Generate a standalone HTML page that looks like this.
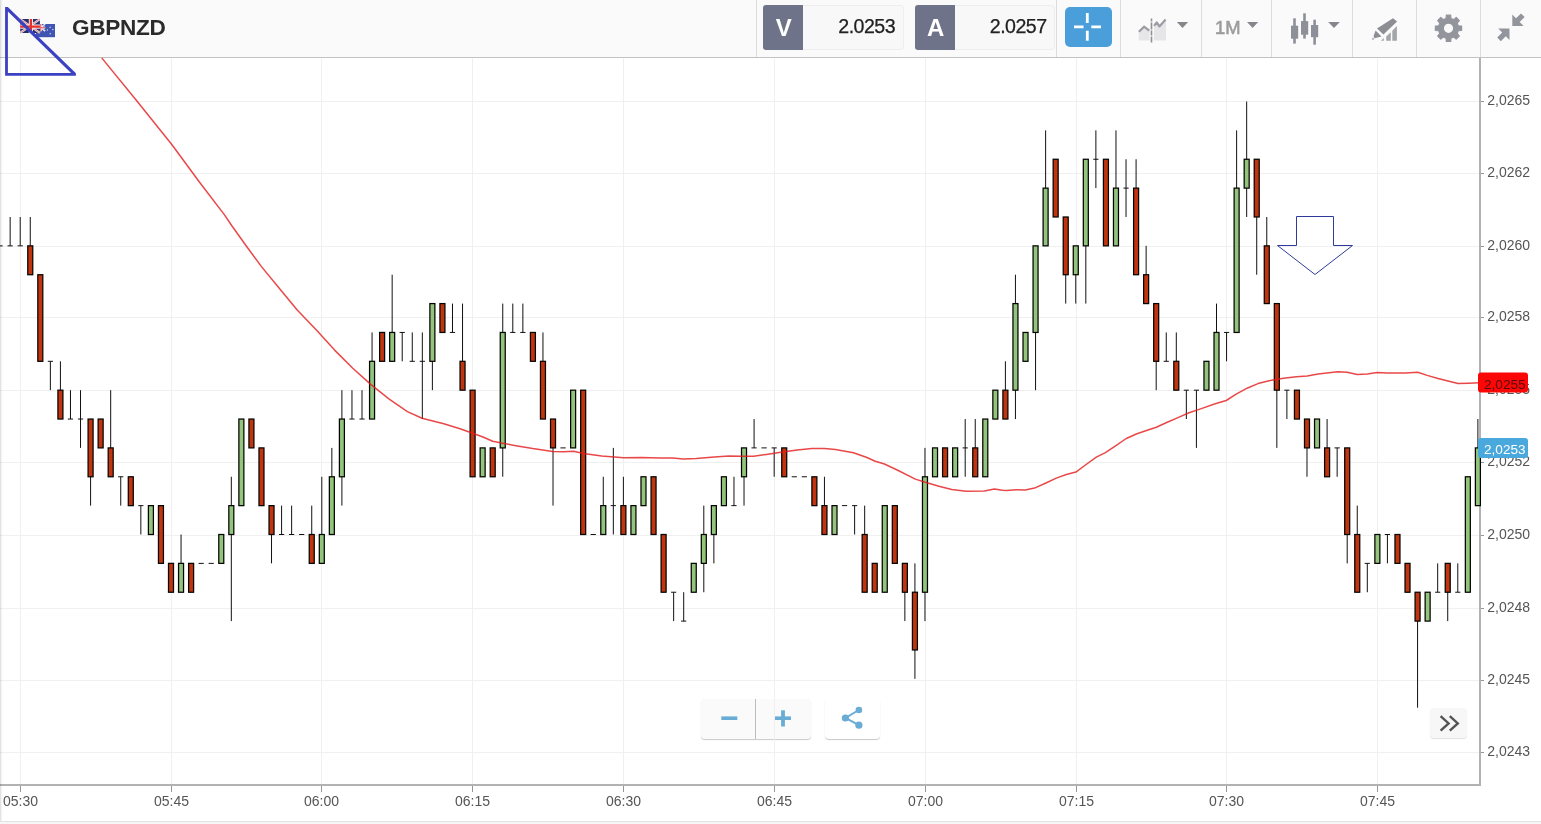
<!DOCTYPE html>
<html lang="en">
<head>
<meta charset="utf-8">
<title>GBPNZD</title>
<style>
html,body{margin:0;padding:0;}
body{width:1541px;height:824px;overflow:hidden;background:#fff;position:relative;font-family:"Liberation Sans",sans-serif;}
#hdr{position:absolute;left:0;top:0;width:1541px;height:57px;background:#fafafa;border-bottom:1px solid #c2c2c2;box-sizing:content-box;}
#foot{position:absolute;left:0;top:821px;width:1541px;height:3px;background:#f6f6f6;border-top:1px solid #e2e2e2;box-sizing:border-box;}
#edge{position:absolute;left:0;top:0;width:3px;height:821px;background:linear-gradient(90deg,rgba(0,0,0,.15),rgba(0,0,0,.04) 50%,rgba(0,0,0,0));}
.sep{position:absolute;top:0;width:1px;height:57px;background:#dcdcdc;}
.sym{position:absolute;left:72px;top:14.5px;font-size:22.6px;line-height:26px;font-weight:bold;color:#2b2b2b;letter-spacing:-0.3px;}
.pbox{position:absolute;top:5px;height:45px;}
.pbox .k{position:absolute;left:0;top:0;width:40px;height:45px;background:#6f7389;border-radius:3px 0 0 3px;color:#fff;font-weight:bold;font-size:24px;line-height:45px;text-align:center;text-indent:1.5px;}
.pbox .v{position:absolute;left:40px;top:0;width:100px;height:43px;border:1px solid #eeeeee;border-left:none;border-radius:0 4px 4px 0;background:#f8f8f8;color:#222;font-size:19.6px;line-height:41px;text-align:right;padding-right:8.5px;box-sizing:content-box;letter-spacing:-0.55px;-webkit-text-stroke:0.25px #222;}
.pbox .v span{display:inline-block;}
#cross{position:absolute;left:1065px;top:7px;width:47px;height:40px;border-radius:5px;background:#4a9fdb;}
.tf{position:absolute;left:1215px;top:16px;font-size:18.4px;line-height:24px;color:#9c9c9c;-webkit-text-stroke:0.55px #9c9c9c;}
svg.chart{position:absolute;left:0;top:0;}
svg.chart rect.r{fill:#c13410;}
svg.chart rect.g{fill:#93c47e;}
svg.chart .ax text{font-family:"Liberation Sans",sans-serif;font-size:14px;fill:#555;}
svg.chart text.tag{font-family:"Liberation Sans",sans-serif;font-size:13.6px;}
svg.ico{position:absolute;left:0;top:0;}
.btn{position:absolute;background:#fafafa;box-shadow:0 1px 1px rgba(0,0,0,.22);}
</style>
</head>
<body>
<div id="hdr">
  <svg class="ico" width="60" height="57" viewBox="0 0 60 57">
  <!-- flags -->
  <g>
    <rect x="36" y="24" width="19" height="13.2" fill="#3f55b1"/>
    <path d="M36 24L45.2 31.2M45.2 24L36 31.2" stroke="#e8e8f4" stroke-width="1.5"/>
    <path d="M40.6 24V31.2M36 27.6H45.2" stroke="#f4f0f4" stroke-width="2.4"/>
    <path d="M40.6 24V31.2M36 27.6H45.2" stroke="#ee7070" stroke-width="1.1"/>
    <circle cx="50.1" cy="27.2" r=".8" fill="#c9cff0"/><circle cx="52.9" cy="29.5" r=".8" fill="#c9cff0"/><circle cx="47.4" cy="30" r=".7" fill="#c9cff0"/><circle cx="50.3" cy="33.8" r=".8" fill="#c9cff0"/>
    <rect x="20.2" y="19.1" width="19.7" height="13.8" rx="1.2" fill="#25316f"/>
    <path d="M20.2 19.1L39.9 32.9M39.9 19.1L20.2 32.9" stroke="#ecdfe8" stroke-width="2.2"/>
    <path d="M20.2 19.1L39.9 32.9M39.9 19.1L20.2 32.9" stroke="#e87878" stroke-width="0.8"/>
    <path d="M30.9 19.1V32.9M20.2 26.6H39.9" stroke="#f6e4e6" stroke-width="4.2"/>
    <path d="M30.9 19.1V32.9M20.2 26.6H39.9" stroke="#e6322a" stroke-width="2.2"/>
  </g>
  </svg>
  <div class="sym">GBPNZD</div>
  <div class="sep" style="left:756px"></div>
  <div class="pbox" style="left:763px"><div class="k">V</div><div class="v" style="width:92px;padding-right:7.5px"><span>2.0253</span></div></div>
  <div class="pbox" style="left:915px"><div class="k">A</div><div class="v" style="width:91.5px;padding-right:7px"><span>2.0257</span></div></div>
  <div class="sep" style="left:1056px"></div>
  <div id="cross"></div>
  <div class="sep" style="left:1120px"></div>
  <div class="sep" style="left:1201px"></div>
  <div class="tf">1M</div>
  <div class="sep" style="left:1271px"></div>
  <div class="sep" style="left:1352px"></div>
  <div class="sep" style="left:1416px"></div>
  <div class="sep" style="left:1480px"></div>
</div>

<!-- zoom / share / scroll buttons -->
<div class="btn" style="left:701px;top:699px;width:110px;height:40px;border-radius:4px;"></div>
<div class="btn" style="left:825px;top:699px;width:55px;height:40px;border-radius:4px;background:#fff;"></div>
<div class="btn" style="left:1430px;top:708px;width:37px;height:30px;border-radius:4px;background:#f7f7f7;box-shadow:0 1px 1px rgba(0,0,0,.12);"></div>

<svg class="chart" width="1541" height="824" viewBox="0 0 1541 824">
<g stroke="#f0f0f0" stroke-width="1" shape-rendering="crispEdges">
<line x1="0" x2="1479" y1="101.5" y2="101.5"/>
<line x1="0" x2="1479" y1="173.5" y2="173.5"/>
<line x1="0" x2="1479" y1="246.5" y2="246.5"/>
<line x1="0" x2="1479" y1="317.5" y2="317.5"/>
<line x1="0" x2="1479" y1="390.5" y2="390.5"/>
<line x1="0" x2="1479" y1="462.5" y2="462.5"/>
<line x1="0" x2="1479" y1="535.5" y2="535.5"/>
<line x1="0" x2="1479" y1="608.5" y2="608.5"/>
<line x1="0" x2="1479" y1="680.5" y2="680.5"/>
<line x1="0" x2="1479" y1="752.5" y2="752.5"/>
<line x1="20.5" x2="20.5" y1="58" y2="784"/>
<line x1="171.5" x2="171.5" y1="58" y2="784"/>
<line x1="321.5" x2="321.5" y1="58" y2="784"/>
<line x1="472.5" x2="472.5" y1="58" y2="784"/>
<line x1="623.5" x2="623.5" y1="58" y2="784"/>
<line x1="774.5" x2="774.5" y1="58" y2="784"/>
<line x1="925.5" x2="925.5" y1="58" y2="784"/>
<line x1="1076.5" x2="1076.5" y1="58" y2="784"/>
<line x1="1226.5" x2="1226.5" y1="58" y2="784"/>
<line x1="1377.5" x2="1377.5" y1="58" y2="784"/>
</g>
<g shape-rendering="crispEdges" fill="#b2b2b2">
<rect x="1479" y="58" width="2" height="728"/>
<rect x="0" y="784" width="1481" height="2"/>
</g>
<g stroke="#969696" stroke-width="1" shape-rendering="crispEdges">
<line x1="1481" x2="1484" y1="101.5" y2="101.5"/>
<line x1="1481" x2="1484" y1="173.5" y2="173.5"/>
<line x1="1481" x2="1484" y1="246.5" y2="246.5"/>
<line x1="1481" x2="1484" y1="317.5" y2="317.5"/>
<line x1="1481" x2="1484" y1="390.5" y2="390.5"/>
<line x1="1481" x2="1484" y1="462.5" y2="462.5"/>
<line x1="1481" x2="1484" y1="535.5" y2="535.5"/>
<line x1="1481" x2="1484" y1="608.5" y2="608.5"/>
<line x1="1481" x2="1484" y1="680.5" y2="680.5"/>
<line x1="1481" x2="1484" y1="752.5" y2="752.5"/>
<line x1="20.5" x2="20.5" y1="786" y2="792"/>
<line x1="171.5" x2="171.5" y1="786" y2="792"/>
<line x1="321.5" x2="321.5" y1="786" y2="792"/>
<line x1="472.5" x2="472.5" y1="786" y2="792"/>
<line x1="623.5" x2="623.5" y1="786" y2="792"/>
<line x1="774.5" x2="774.5" y1="786" y2="792"/>
<line x1="925.5" x2="925.5" y1="786" y2="792"/>
<line x1="1076.5" x2="1076.5" y1="786" y2="792"/>
<line x1="1226.5" x2="1226.5" y1="786" y2="792"/>
<line x1="1377.5" x2="1377.5" y1="786" y2="792"/>
</g>
<path d="M-2.5 245.85H2.7M10.15 216.99V245.85M7.55 245.85H12.75M20.21 216.99V245.85M17.61 245.85H22.81M30.26 216.99V274.72M40.31 274.72V361.31M50.37 361.31V390.18M47.77 361.31H52.97M60.42 361.31V419.04M70.47 390.18V419.04M67.87 419.04H73.07M80.52 390.18V447.9M77.92 419.04H83.12M90.58 419.04V505.63M100.63 419.04V447.9M110.68 390.18V476.77M120.74 476.77V505.63M118.14 476.77H123.34M130.79 476.77V505.63M140.84 505.63V534.5M138.24 505.63H143.44M150.9 505.63V534.5M160.95 505.63V563.37M171 563.37V592.23M181.05 534.5V592.23M191.11 563.37V592.23M198.56 563.37H203.76M208.61 563.37H213.81M221.27 534.5V563.37M231.32 476.77V621.1M241.37 419.04V505.63M251.43 419.04V447.9M261.48 447.9V505.63M271.53 505.63V563.37M281.58 505.63V534.5M278.98 534.5H284.18M291.64 505.63V534.5M289.04 534.5H294.24M299.09 534.5H304.29M311.74 505.63V563.37M321.8 476.77V563.37M331.85 447.9V534.5M341.9 390.18V505.63M351.96 390.18V419.04M349.36 419.04H354.56M362.01 390.18V419.04M359.41 419.04H364.61M372.06 332.45V419.04M382.11 332.45V361.31M392.17 274.72V361.31M402.22 332.45V361.31M399.62 332.45H404.82M412.27 332.45V361.31M409.67 361.31H414.87M422.33 332.45V419.04M419.73 361.31H424.93M432.38 303.58V390.18M442.43 303.58V332.45M452.49 303.58V332.45M449.89 332.45H455.09M462.54 303.58V390.18M472.59 390.18V476.77M482.64 447.9V476.77M492.7 447.9V476.77M502.75 303.58V476.77M512.8 303.58V332.45M510.2 332.45H515.4M522.86 303.58V332.45M520.26 332.45H525.46M532.91 332.45V361.31M542.96 332.45V419.04M553.02 419.04V505.63M560.47 447.9H565.67M573.12 390.18V447.9M583.17 390.18V534.5M590.63 534.5H595.83M603.28 476.77V534.5M613.33 447.9V534.5M610.73 505.63H615.93M623.39 476.77V534.5M633.44 505.63V534.5M643.49 476.77V505.63M653.55 476.77V534.5M663.6 534.5V592.23M673.65 592.23V621.1M671.05 592.23H676.25M683.7 592.23V621.1M681.1 621.1H686.3M693.76 563.37V592.23M703.81 505.63V592.23M713.86 505.63V563.37M723.92 476.77V505.63M733.97 476.77V505.63M731.37 505.63H736.57M744.02 447.9V505.63M754.08 419.04V447.9M751.48 447.9H756.68M761.53 447.9H766.73M774.18 447.9V476.77M771.58 447.9H776.78M784.23 447.9V476.77M791.69 476.77H796.89M801.74 476.77H806.94M814.39 476.77V505.63M824.45 476.77V534.5M834.5 505.63V534.5M841.95 505.63H847.15M854.61 505.63V534.5M852.01 505.63H857.21M864.66 505.63V592.23M874.71 563.37V592.23M884.76 505.63V592.23M894.82 505.63V563.37M904.87 563.37V621.1M914.92 563.37V678.83M924.98 447.9V621.1M935.03 447.9V476.77M945.08 447.9V476.77M955.14 447.9V476.77M965.19 419.04V476.77M962.59 447.9H967.79M975.24 419.04V476.77M985.29 419.04V476.77M995.35 390.18V419.04M1005.4 361.31V419.04M1015.45 274.72V419.04M1025.51 332.45V361.31M1035.56 245.85V390.18M1045.61 130.39V245.85M1055.66 159.25V216.99M1065.72 216.99V303.58M1075.77 245.85V303.58M1085.82 159.25V303.58M1095.88 130.39V188.12M1093.28 159.25H1098.48M1105.93 159.25V245.85M1115.98 130.39V245.85M1126.04 159.25V216.99M1123.44 188.12H1128.64M1136.09 159.25V274.72M1146.14 245.85V303.58M1156.19 303.58V390.18M1166.25 332.45V361.31M1163.65 361.31H1168.85M1176.3 332.45V390.18M1186.35 390.18V419.04M1183.75 390.18H1188.95M1196.41 390.18V447.9M1193.81 390.18H1199.01M1206.46 361.31V390.18M1216.51 303.58V390.18M1226.57 332.45V361.31M1223.97 332.45H1229.17M1236.62 130.39V332.45M1246.67 101.53V216.99M1256.72 159.25V274.72M1266.78 216.99V303.58M1276.83 303.58V447.9M1286.88 390.18V419.04M1284.28 390.18H1289.48M1296.94 390.18V419.04M1306.99 419.04V476.77M1317.04 419.04V447.9M1327.1 419.04V476.77M1337.15 447.9V476.77M1334.55 447.9H1339.75M1347.2 447.9V563.37M1357.26 505.63V592.23M1367.31 563.37V592.23M1364.71 563.37H1369.91M1377.36 534.5V563.37M1387.41 534.5V563.37M1384.81 534.5H1390.01M1397.47 534.5V563.37M1407.52 563.37V592.23M1417.57 592.23V707.69M1427.63 592.23V621.1M1437.68 563.37V592.23M1435.08 592.23H1440.28M1447.73 563.37V621.1M1457.79 563.37V592.23M1455.19 592.23H1460.38M1467.84 476.77V592.23M1477.89 419.04V505.63" stroke="#111" stroke-width="1" fill="none"/>
<g stroke="#050500" stroke-width="1.25">
<rect class="r" x="27.76" y="245.85" width="5" height="28.87"/><rect class="r" x="37.81" y="274.72" width="5" height="86.59"/><rect class="r" x="57.92" y="390.18" width="5" height="28.87"/><rect class="r" x="88.08" y="419.04" width="5" height="57.73"/><rect class="r" x="98.13" y="419.04" width="5" height="28.86"/><rect class="r" x="108.18" y="447.9" width="5" height="28.87"/><rect class="r" x="128.29" y="476.77" width="5" height="28.87"/><rect class="g" x="148.4" y="505.63" width="5" height="28.87"/><rect class="r" x="158.45" y="505.63" width="5" height="57.73"/><rect class="r" x="168.5" y="563.37" width="5" height="28.87"/><rect class="g" x="178.55" y="563.37" width="5" height="28.87"/><rect class="r" x="188.61" y="563.37" width="5" height="28.87"/><rect class="g" x="218.77" y="534.5" width="5" height="28.87"/><rect class="g" x="228.82" y="505.63" width="5" height="28.87"/><rect class="g" x="238.87" y="419.04" width="5" height="86.59"/><rect class="r" x="248.93" y="419.04" width="5" height="28.86"/><rect class="r" x="258.98" y="447.9" width="5" height="57.73"/><rect class="r" x="269.03" y="505.63" width="5" height="28.87"/><rect class="r" x="309.24" y="534.5" width="5" height="28.87"/><rect class="g" x="319.3" y="534.5" width="5" height="28.87"/><rect class="g" x="329.35" y="476.77" width="5" height="57.73"/><rect class="g" x="339.4" y="419.04" width="5" height="57.73"/><rect class="g" x="369.56" y="361.31" width="5" height="57.73"/><rect class="r" x="379.61" y="332.45" width="5" height="28.86"/><rect class="g" x="389.67" y="332.45" width="5" height="28.86"/><rect class="g" x="429.88" y="303.58" width="5" height="57.73"/><rect class="r" x="439.93" y="303.58" width="5" height="28.87"/><rect class="r" x="460.04" y="361.31" width="5" height="28.87"/><rect class="r" x="470.09" y="390.18" width="5" height="86.59"/><rect class="g" x="480.14" y="447.9" width="5" height="28.87"/><rect class="r" x="490.2" y="447.9" width="5" height="28.87"/><rect class="g" x="500.25" y="332.45" width="5" height="115.46"/><rect class="r" x="530.41" y="332.45" width="5" height="28.86"/><rect class="r" x="540.46" y="361.31" width="5" height="57.73"/><rect class="r" x="550.52" y="419.04" width="5" height="28.86"/><rect class="g" x="570.62" y="390.18" width="5" height="57.73"/><rect class="r" x="580.67" y="390.18" width="5" height="144.32"/><rect class="g" x="600.78" y="505.63" width="5" height="28.87"/><rect class="r" x="620.89" y="505.63" width="5" height="28.87"/><rect class="g" x="630.94" y="505.63" width="5" height="28.87"/><rect class="g" x="640.99" y="476.77" width="5" height="28.87"/><rect class="r" x="651.05" y="476.77" width="5" height="57.73"/><rect class="r" x="661.1" y="534.5" width="5" height="57.73"/><rect class="g" x="691.26" y="563.37" width="5" height="28.87"/><rect class="g" x="701.31" y="534.5" width="5" height="28.87"/><rect class="g" x="711.36" y="505.63" width="5" height="28.87"/><rect class="g" x="721.42" y="476.77" width="5" height="28.87"/><rect class="g" x="741.52" y="447.9" width="5" height="28.87"/><rect class="r" x="781.73" y="447.9" width="5" height="28.87"/><rect class="r" x="811.89" y="476.77" width="5" height="28.87"/><rect class="r" x="821.95" y="505.63" width="5" height="28.87"/><rect class="g" x="832" y="505.63" width="5" height="28.87"/><rect class="r" x="862.16" y="534.5" width="5" height="57.73"/><rect class="r" x="872.21" y="563.37" width="5" height="28.87"/><rect class="g" x="882.26" y="505.63" width="5" height="86.6"/><rect class="r" x="892.32" y="505.63" width="5" height="57.73"/><rect class="r" x="902.37" y="563.37" width="5" height="28.87"/><rect class="r" x="912.42" y="592.23" width="5" height="57.73"/><rect class="g" x="922.48" y="476.77" width="5" height="115.46"/><rect class="g" x="932.53" y="447.9" width="5" height="28.87"/><rect class="r" x="942.58" y="447.9" width="5" height="28.87"/><rect class="g" x="952.64" y="447.9" width="5" height="28.87"/><rect class="r" x="972.74" y="447.9" width="5" height="28.87"/><rect class="g" x="982.79" y="419.04" width="5" height="57.73"/><rect class="g" x="992.85" y="390.18" width="5" height="28.87"/><rect class="r" x="1002.9" y="390.18" width="5" height="28.87"/><rect class="g" x="1012.95" y="303.58" width="5" height="86.59"/><rect class="g" x="1023.01" y="332.45" width="5" height="28.86"/><rect class="g" x="1033.06" y="245.85" width="5" height="86.6"/><rect class="g" x="1043.11" y="188.12" width="5" height="57.73"/><rect class="r" x="1053.16" y="159.25" width="5" height="57.73"/><rect class="r" x="1063.22" y="216.99" width="5" height="57.73"/><rect class="g" x="1073.27" y="245.85" width="5" height="28.87"/><rect class="g" x="1083.32" y="159.25" width="5" height="86.6"/><rect class="r" x="1103.43" y="159.25" width="5" height="86.6"/><rect class="g" x="1113.48" y="188.12" width="5" height="57.73"/><rect class="r" x="1133.59" y="188.12" width="5" height="86.6"/><rect class="r" x="1143.64" y="274.72" width="5" height="28.87"/><rect class="r" x="1153.69" y="303.58" width="5" height="57.73"/><rect class="r" x="1173.8" y="361.31" width="5" height="28.87"/><rect class="g" x="1203.96" y="361.31" width="5" height="28.87"/><rect class="g" x="1214.01" y="332.45" width="5" height="57.73"/><rect class="g" x="1234.12" y="188.12" width="5" height="144.33"/><rect class="g" x="1244.17" y="159.25" width="5" height="28.87"/><rect class="r" x="1254.22" y="159.25" width="5" height="57.73"/><rect class="r" x="1264.28" y="245.85" width="5" height="57.73"/><rect class="r" x="1274.33" y="303.58" width="5" height="86.59"/><rect class="r" x="1294.44" y="390.18" width="5" height="28.87"/><rect class="r" x="1304.49" y="419.04" width="5" height="28.86"/><rect class="g" x="1314.54" y="419.04" width="5" height="28.86"/><rect class="r" x="1324.6" y="447.9" width="5" height="28.87"/><rect class="r" x="1344.7" y="447.9" width="5" height="86.6"/><rect class="r" x="1354.76" y="534.5" width="5" height="57.73"/><rect class="g" x="1374.86" y="534.5" width="5" height="28.87"/><rect class="r" x="1394.97" y="534.5" width="5" height="28.87"/><rect class="r" x="1405.02" y="563.37" width="5" height="28.87"/><rect class="r" x="1415.07" y="592.23" width="5" height="28.87"/><rect class="g" x="1425.13" y="592.23" width="5" height="28.87"/><rect class="r" x="1445.23" y="563.37" width="5" height="28.87"/><rect class="g" x="1465.34" y="476.77" width="5" height="115.46"/><rect class="g" x="1475.39" y="447.9" width="5" height="57.73"/>
</g>
<polyline fill="none" stroke="#e41a1a" stroke-opacity="0.8" stroke-width="1.5" stroke-linejoin="round" points="101.7,57.9 136.7,100.7 171.8,144.5 199,181.5 224.3,214.6 232,226 247,247 261.5,266.6 277.6,286.3 297.2,309.9 316.4,330 334.6,350.1 352.8,368.3 371,384.6 389.2,399.2 407.4,411.6 422,418.3 443.8,423.8 460,428.7 472.7,433.3 483.6,437.3 492.7,441.3 502.7,443.2 514.5,445.4 532.7,448.5 552.7,451.4 563.6,451.8 573.6,451.2 583.5,453.6 601.7,456 614.4,456.9 623.5,457.8 641.7,457.4 659.9,458 672.6,458 683.5,459.1 696.2,458.5 714.4,456.9 728.9,456 740.9,456.3 753.6,456.3 766.3,454.5 780.9,452.3 797.2,450 811.8,448.5 824.5,448.5 835.4,449.6 853.5,452.7 866.3,457.3 875.3,461.3 884.4,464 897.2,470 915.3,479.1 925.3,482.3 938.9,486.3 951.7,489.6 966.2,491.2 984.4,490.9 994.4,489 1002.5,490.3 1006.4,490.5 1016.4,489.7 1025.4,489.9 1034.5,488.1 1045.4,483.2 1056.3,478.1 1066.3,474.5 1075.9,472.1 1085.4,465 1096.3,457.2 1105.4,452.7 1116.3,445.4 1126.3,438.5 1136.3,434 1147.2,430.3 1156.3,427.2 1167.2,422.3 1178,417.6 1189,412.7 1199.9,409.1 1214.4,404 1226.2,400.5 1236.2,394.2 1247.1,388.2 1258,383.6 1269.1,380.7 1283.6,378.2 1296.3,376.7 1307.2,376 1318.1,374 1329,372.7 1338.1,371.8 1347.2,372.3 1357.2,374.5 1367.2,374 1377.2,372.5 1387.2,373.1 1405.3,373.1 1417.7,372.3 1427.2,375.4 1438,378.5 1449,381.3 1458,383.6 1468.9,383.2 1478.9,382.7"/>
<g class="ax">
<text x="1487.3" y="105">2,0265</text>
<text x="1487.3" y="177.2">2,0262</text>
<text x="1487.3" y="249.9">2,0260</text>
<text x="1487.3" y="321.3">2,0258</text>
<text x="1487.3" y="393.8">2,0255</text>
<text x="1487.3" y="466.4">2,0252</text>
<text x="1487.3" y="539.1">2,0250</text>
<text x="1487.3" y="611.9">2,0248</text>
<text x="1487.3" y="683.8">2,0245</text>
<text x="1487.3" y="755.8">2,0243</text>
<text x="20.5" y="806" text-anchor="middle">05:30</text>
<text x="171.5" y="806" text-anchor="middle">05:45</text>
<text x="321.5" y="806" text-anchor="middle">06:00</text>
<text x="472.5" y="806" text-anchor="middle">06:15</text>
<text x="623.5" y="806" text-anchor="middle">06:30</text>
<text x="774.5" y="806" text-anchor="middle">06:45</text>
<text x="925.5" y="806" text-anchor="middle">07:00</text>
<text x="1076.5" y="806" text-anchor="middle">07:15</text>
<text x="1226.5" y="806" text-anchor="middle">07:30</text>
<text x="1377.5" y="806" text-anchor="middle">07:45</text>
</g>
<rect x="1478" y="372.6" width="50" height="20" rx="3" fill="#fb0707"/>
<text class="tag" x="1484" y="388.5" fill="#5a0a0a">2,0255</text>
<rect x="1478" y="438" width="50" height="20" rx="3" fill="#4aa9dc"/>
<text class="tag" x="1484" y="453.5" fill="#fff">2,0253</text>
<path d="M1296.5 216.5H1333.5V245.5H1352.5L1315 274.5L1277.5 245.5H1296.5Z" fill="none" stroke="#2f3b9c" stroke-width="1"/>
<path fill-rule="evenodd" d="M5.1 7.1H7.8L75.9 73.3V75.7H5.1ZM7.9 11.6L71.1 73H7.9Z" fill="#3b41c1"/>
</svg>

<!-- header icons + button glyphs -->
<svg class="ico" width="1541" height="824" viewBox="0 0 1541 824">
  <!-- crosshair glyph -->
  <path d="M1087.3 13V23M1087.3 30.7V40.7M1074 26.8H1083.5M1091.3 26.8H1101" stroke="#fff" stroke-width="2.8" fill="none"/>
  <!-- compare icon -->
  <path d="M1138.7 31.8L1144.1 26.6L1149.6 31V40.5H1138.7Z" fill="#e6e6e8"/>
  <path d="M1153.9 25.8L1156.7 21.9L1159.4 26.6L1166 19.3V40.5H1153.9Z" fill="#e6e6e8"/>
  <path d="M1138.9 31.8L1144.1 26.6L1149.3 30.7" stroke="#9b9da3" stroke-width="2.2" fill="none"/>
  <path d="M1154.1 25.8L1156.7 22.3L1159.4 26.4L1165.6 19.6" stroke="#9b9da3" stroke-width="2.2" stroke-linejoin="round" fill="none"/>
  <path d="M1151.5 18.4V42.7" stroke="#8e9096" stroke-width="1.6" stroke-dasharray="3 1 7 1 5 1 6" fill="none"/>
  <!-- carets -->
  <path d="M1176.9 22H1188.1L1182.5 27.9Z" fill="#85878c"/>
  <path d="M1247 22H1258.2L1252.6 27.9Z" fill="#85878c"/>
  <path d="M1328.2 22H1339.8L1334 27.9Z" fill="#85878c"/>
  <!-- candle icon -->
  <g fill="#8d9099">
    <rect x="1291" y="25.7" width="7.2" height="13"/><rect x="1293.2" y="18.3" width="2.6" height="25.3"/>
    <rect x="1301" y="21.1" width="7.2" height="13.6"/><rect x="1303.2" y="13.3" width="2.6" height="25.3"/>
    <rect x="1311" y="25" width="7.2" height="12.2"/><rect x="1313.3" y="19.7" width="2.6" height="25"/>
  </g>
  <!-- pencil + bars icon -->
  <g fill="#8c8e94">
    <path d="M1377 28.5L1393 18.2L1397.1 21.4L1383.4 34.6Z"/>
    <path d="M1375.6 30.6L1381.5 36.5L1374.4 38.2L1373.6 36Z"/>
    <path d="M1372.1 39.9L1372.8 37.6L1374.2 39Z"/>
  </g>
  <g fill="#a3a5aa">
    <path d="M1380.9 40.8L1383.8 37.9V40.8Z"/>
    <path d="M1386.2 40.8V36.6L1390.8 32.3V40.8Z"/>
    <path d="M1392.3 40.8V30.8L1396.9 26V40.8Z"/>
  </g>
  <!-- gear -->
  <g transform="translate(1448.5 28.3)" fill="#93959c">
    <path fill-rule="evenodd" stroke="#93959c" stroke-width="1.2" stroke-linejoin="round" d="M9.8 -2.43L13.12 -2.18L13.12 2.18L9.8 2.43L8.65 5.21L10.82 7.73L7.73 10.82L5.21 8.65L2.43 9.8L2.18 13.12L-2.18 13.12L-2.43 9.8L-5.21 8.65L-7.73 10.82L-10.82 7.73L-8.65 5.21L-9.8 2.43L-13.12 2.18L-13.12 -2.18L-9.8 -2.43L-8.65 -5.21L-10.82 -7.73L-7.73 -10.82L-5.21 -8.65L-2.43 -9.8L-2.18 -13.12L2.18 -13.12L2.43 -9.8L5.21 -8.65L7.73 -10.82L10.82 -7.73L8.65 -5.21ZM5.2 0A5.2 5.2 0 1 0 -5.2 0A5.2 5.2 0 1 0 5.2 0Z"/>
  </g>
  <!-- collapse arrows -->
  <g fill="#93959c">
    <path d="M1512.3 26L1512.3 14.6L1516 18.3L1521 13.4L1524.6 17L1519.7 22L1523.6 26Z"/>
    <path d="M1509.5 28.5V40L1505.8 36.3L1500.8 41.2L1497.2 37.6L1502.2 32.6L1498.2 28.5Z"/>
  </g>
  <!-- minus / plus -->
  <rect x="721.3" y="716.4" width="16" height="3.6" fill="#69acd6"/>
  <rect x="775" y="716.4" width="16" height="3.6" fill="#69acd6"/>
  <rect x="781.1" y="710.3" width="3.8" height="16.2" fill="#69acd6"/>
  <rect x="755" y="699" width="1" height="40" fill="#bdbdbd"/>
  <!-- share -->
  <g fill="#69acd6" stroke="#69acd6">
    <path d="M858.9 710L845.4 718L858.9 725.2" fill="none" stroke-width="2"/>
    <circle cx="845.4" cy="718" r="3.6" stroke="none"/>
    <circle cx="858.9" cy="710" r="3.3" stroke="none"/>
    <circle cx="858.9" cy="725.2" r="3.6" stroke="none"/>
  </g>
  <!-- double chevron -->
  <path d="M1440.6 716.2L1448.6 723.4L1440.6 730.6M1449.8 716.2L1457.8 723.4L1449.8 730.6" fill="none" stroke="#555" stroke-width="2.4"/>
</svg>
<div id="edge"></div>
<div id="foot"></div>
</body>
</html>
